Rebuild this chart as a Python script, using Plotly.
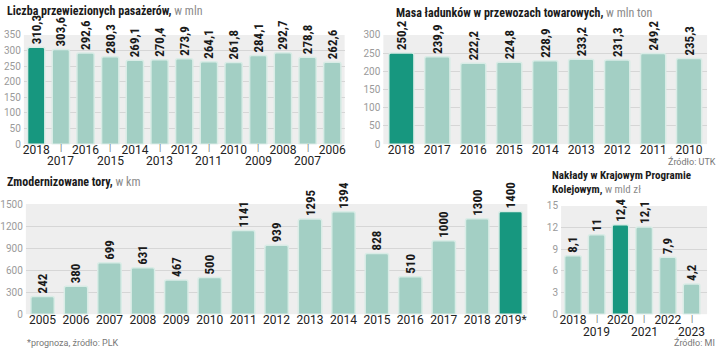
import plotly.graph_objects as go

# ---- data ----
pas_years = ["2018", "2017", "2016", "2015", "2014", "2013", "2012", "2011", "2010", "2009", "2008", "2007", "2006"]
pas_vals = [310.3, 303.6, 292.6, 280.3, 269.1, 270.4, 273.9, 264.1, 261.8, 284.1, 292.7, 278.8, 262.6]

cargo_years = ["2018", "2017", "2016", "2015", "2014", "2013", "2012", "2011", "2010"]
cargo_vals = [250.2, 239.9, 222.2, 224.8, 228.9, 233.2, 231.3, 249.2, 235.3]

track_years = ["2005", "2006", "2007", "2008", "2009", "2010", "2011", "2012", "2013", "2014",
               "2015", "2016", "2017", "2018", "2019*"]
track_vals = [242, 380, 699, 631, 467, 500, 1141, 939, 1295, 1394, 828, 510, 1000, 1300, 1400]

kpk_years = ["2018", "2019", "2020", "2021", "2022", "2023"]
kpk_vals = [8.1, 11, 12.4, 12.1, 7.9, 4.2]

# ---- styles ----
DARK = "#17977f"
LIGHT = "#a3cfc4"
EDGE = "#d9ece6"
NARROW = "Liberation Sans Narrow, Roboto Condensed, DejaVu Sans Condensed, Roboto"
REG = "Roboto, Liberation Sans, sans-serif"
W, H = 720, 354


def pl(v):
    return f"{v:g}".replace(".", ",")


def colors(n, hi):
    return [DARK if i == hi else LIGHT for i in range(n)]


fig = go.Figure()

panels = [
    (pas_years, pas_vals, 0, "x", "y"),
    (cargo_years, cargo_vals, 0, "x2", "y2"),
    (track_years, track_vals, len(track_vals) - 1, "x3", "y3"),
    (kpk_years, kpk_vals, 2, "x4", "y4"),
]

for cats, vals, hi, xa, ya in panels:
    fig.add_trace(go.Bar(
        x=cats, y=vals, xaxis=xa, yaxis=ya,
        marker=dict(color=colors(len(vals), hi), line=dict(color=EDGE, width=1.5), cornerradius=2),
        text=[pl(v) for v in vals], textposition="outside", textangle=-90,
        constraintext="none", cliponaxis=False,
        textfont=dict(family=NARROW, size=13, color="#1a1a1a", weight="bold"),
        showlegend=False, hoverinfo="skip",
    ))


def yaxis(domain, anchor, rng, dtick):
    return dict(domain=domain, anchor=anchor, range=rng, dtick=dtick, showline=False, zeroline=False,
                showgrid=True, gridcolor="#d6d6d6", gridwidth=1, ticks="",
                tickfont=dict(family=REG, size=10, color="#9a9a9a"), ticklabelstandoff=2, fixedrange=True)


def xaxis(domain, anchor, cats, stag):
    text = [c if (not stag or i % 2 == 0) else " " for i, c in enumerate(cats)]
    return dict(domain=domain, anchor=anchor, type="category", categoryorder="array", categoryarray=cats,
                showline=False, showgrid=False, zeroline=False, ticks="",
                tickfont=dict(family=REG, size=12, color="#222222"), tickangle=0,
                tickmode="array", tickvals=cats, ticktext=text, ticklabelstandoff=-3)


fig.update_layout(
    width=W, height=H, margin=dict(l=0, r=0, t=0, b=0),
    paper_bgcolor="white", plot_bgcolor="#eeeeee",
    bargap=0.3,
    xaxis=xaxis([20 / W, 343 / W], "y", pas_years, True),
    yaxis=yaxis([1 - 143 / H, 1 - 30 / H], "x", [0, 350], 50),
    xaxis2=xaxis([382 / W, 708 / W], "y2", cargo_years, False),
    yaxis2=yaxis([1 - 143 / H, 1 - 30 / H], "x2", [0, 300], 50),
    xaxis3=xaxis([22 / W, 527 / W], "y3", track_years, False),
    yaxis3=yaxis([1 - 319 / H, 1 - 205 / H], "x3", [0, 1500], 300),
    xaxis4=xaxis([561 / W, 708 / W], "y4", kpk_years, True),
    yaxis4=yaxis([1 - 319 / H, 1 - 207 / H], "x4", [0, 15], 3),
)

# second row of staggered category labels, placed on the category axis
for cats, xref, y_mark, y_lab in [(pas_years, "x", 147, 160), (kpk_years, "x4", 324, 337)]:
    for i, c in enumerate(cats):
        if i % 2 == 1:
            fig.add_annotation(text=c, x=i, xref=xref, y=1 - y_lab / H, yref="paper",
                               showarrow=False, yanchor="middle",
                               font=dict(family=REG, size=12, color="#222222"))
            fig.add_annotation(text="|", x=i, xref=xref, y=1 - y_mark / H, yref="paper",
                               showarrow=False, yanchor="middle",
                               font=dict(family=REG, size=9, color="#666666"))


def ann(text, x, y, xanchor="left", size=12, color="#1a1a1a", family=NARROW, yanchor="middle"):
    fig.add_annotation(text=text, x=x / W, y=1 - y / H, xref="paper", yref="paper",
                       xanchor=xanchor, yanchor=yanchor, showarrow=False, align="left",
                       borderpad=0,
                       font=dict(family=family, size=size, color=color))


GRAY = "<span style='color:#8a8a8a;font-weight:normal'>"
ann("<b>Liczba przewiezionych pasażerów,</b> " + GRAY + "w mln</span>", 2, 5)
ann("<b>Masa ładunków w przewozach towarowych,</b> " + GRAY + "w mln ton</span>", 394, 7)
ann("<b>Zmodernizowane tory,</b> " + GRAY + "w km</span>", 2, 182)
ann("<b>Nakłady w Krajowym Programie</b><br><b>Kolejowym,</b> " + GRAY + "w mld zł</span>",
    551, 198, size=11, yanchor="bottom")
ann("Źródło: UTK", 718, 161, xanchor="right", size=9, color="#777777", family=REG)
ann("*prognoza, źródło: PLK", 22, 349, size=9, color="#777777", family=REG)
ann("Źródło: MI", 717, 348, xanchor="right", size=9, color="#777777", family=REG)

fig.write_html("out.html")
